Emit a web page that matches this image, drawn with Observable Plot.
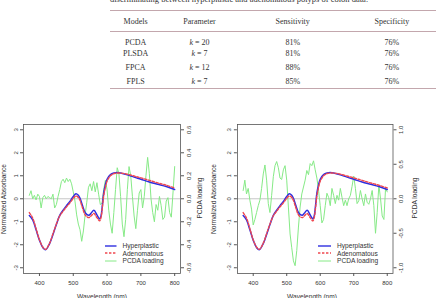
<!DOCTYPE html>
<html>
<head>
<meta charset="utf-8">
<script src="https://cdn.jsdelivr.net/npm/d3@7"></script>
<script src="https://cdn.jsdelivr.net/npm/@observablehq/plot@0.6"></script>
<style>
  html, body { margin: 0; padding: 0; background: #fff; }
  #page { position: relative; width: 436px; height: 298px; overflow: hidden; background: #fff; }
  .abs { position: absolute; }
  #caption { left: 110px; top: -6px; font: 8.5px/10px "Liberation Serif", "DejaVu Serif", serif; color: #333; white-space: nowrap; }
  #tbl { position: absolute; left: 110px; top: 10px; border-collapse: collapse; font: 8px "Liberation Serif", "DejaVu Serif", serif; color: #333; }
  #tbl th, #tbl td { padding: 0; text-align: center; font-weight: normal; }
  #tbl thead tr { height: 21px; border-top: 1px solid #c3a7ad; border-bottom: 1px solid #c3a7ad; }
  #tbl tbody tr { height: 14px; }
  #tbl tbody tr:first-child { height: 15px; vertical-align: bottom; }
  #tbl tbody tr:last-child { border-bottom: 1px solid #c3a7ad; }
  .ttl { font: 6.6px "Liberation Sans", Arial, sans-serif; color: #333; white-space: nowrap; }
  .rot { transform: translate(-50%, -50%) rotate(-90deg); }
  .ctr { transform: translate(-50%, -50%); }
  .leg { font: 6.6px "Liberation Sans", Arial, sans-serif; color: #333; }
  .leg div { height: 7.8px; line-height: 7.8px; display: flex; align-items: center; white-space: nowrap; }
  .leg svg { margin-right: 6px; }
</style>
</head>
<body>
<div id="page">
  <div id="caption" class="abs">discriminating between hyperplastic and adenomatous polyps of colon data.</div>
  <table id="tbl"></table>
  <div id="left" class="abs" style="left:0;top:110px"></div>
  <div id="right" class="abs" style="left:208px;top:110px"></div>
</div>
<script>
// ---- Table of model results ----
const models = ["PCDA", "PLSDA", "FPCA", "FPLS"];
const paramK = [20, 7, 12, 7];
const sensitivity = ["81%", "81%", "88%", "85%"];
const specificity = ["76%", "76%", "76%", "76%"];
const tableHeader = ["Models", "Parameter", "Sensitivity", "Specificity"];
const columnWidths = [52, 78, 112, 90];

// ---- Mean spectra (normalized absorbance) ----
const meanWavelength = [370,380,390,400,410,418,430,440,450,460,470,480,490,500,508,515,520,527,536,546,553,561,570,578,582,586,590,595,600,610,620,630,640,660,680,700,725,750,775,800];
const hyperplastic = [-0.73,-0.92,-1.35,-1.80,-2.12,-2.22,-1.95,-1.55,-1.12,-0.72,-0.50,-0.30,-0.12,0.10,0.22,0.15,0.02,-0.28,-0.62,-0.72,-0.62,-0.50,-0.70,-0.88,-0.75,-0.30,0.25,0.60,0.85,1.05,1.12,1.14,1.12,1.04,0.94,0.85,0.73,0.63,0.53,0.40];
const adenomatous = [-0.60,-0.84,-1.30,-1.78,-2.10,-2.20,-1.93,-1.52,-1.10,-0.74,-0.54,-0.35,-0.18,0.02,0.12,0.06,-0.07,-0.38,-0.72,-0.82,-0.74,-0.64,-0.82,-0.96,-0.82,-0.40,0.12,0.50,0.76,1.00,1.09,1.12,1.12,1.07,0.99,0.91,0.80,0.69,0.59,0.47];

// ---- PCDA loadings ----
const loadingWavelength = [370,375,380,385,390,395,400,405,410,415,420,425,430,435,440,445,450,455,460,465,470,475,480,485,490,495,500,505,510,515,520,525,530,535,540,545,550,555,560,565,570,575,580,585,590,595,600,605,610,615,620,625,630,635,640,645,650,655,660,665,670,675,680,685,690,695,700,705,710,715,720,725,730,735,740,745,750,755,760,765,770,775,780,785,790,795,800];
const loadingLeft = [0.03,0.07,0.0,0.03,-0.01,0.04,0.02,-0.08,0.01,0.03,0.0,0.02,0.01,0.0,0.04,-0.08,-0.05,0.02,0.08,0.15,0.17,0.14,0.18,0.15,0.17,0.13,0.06,-0.02,-0.14,-0.22,-0.27,-0.37,-0.28,-0.14,-0.03,0.10,0.13,0.07,0.15,0.06,0.14,0.04,-0.05,-0.04,0.08,0.16,0.08,-0.10,-0.22,-0.30,-0.12,0.08,0.27,0.22,0.02,-0.22,-0.33,-0.18,0.08,0.28,0.20,0.02,-0.15,-0.26,-0.10,0.05,0.08,-0.08,0.02,0.20,0.36,0.22,0.0,-0.12,-0.20,-0.05,-0.10,0.02,-0.06,-0.18,-0.16,-0.02,0.01,-0.12,-0.16,0.05,0.28];
const loadingRight = [0.12,0.27,0.07,0.15,-0.02,-0.15,-0.38,-0.30,-0.20,-0.10,-0.02,0.15,0.36,0.49,0.27,-0.07,-0.20,0.05,0.32,0.48,0.54,0.45,0.30,0.28,0.42,0.48,0.27,-0.12,-0.51,-0.71,-0.90,-0.97,-0.75,-0.41,-0.12,0.07,0.17,0.27,0.41,0.35,0.51,0.48,0.55,0.42,0.30,0.12,-0.10,-0.35,-0.30,-0.10,0.08,0.02,-0.10,0.15,0.05,-0.07,0.05,-0.02,0.15,0.02,-0.10,-0.02,-0.10,0.00,0.05,0.18,0.33,0.15,-0.07,-0.03,0.12,0.00,-0.10,0.07,-0.05,-0.08,0.00,0.12,-0.10,-0.50,-0.20,0.20,0.00,-0.25,-0.30,0.15,0.10];

// ---- Axis ticks ----
const xTicks = [400, 500, 600, 700, 800];
const absTicks = [-3, -2, -1, 0, 1, 2, 3];
const loadTicksLeft = [-0.6, -0.4, -0.2, 0, 0.2, 0.4, 0.6];
const loadTicksRight = [-1, -0.5, 0, 0.5, 1];

// Legend entries
const legendLabels = ["Hyperplastic", "Adenomatous", "PCDA loading"];
const colors = { hyper: "#2f2fe0", adeno: "#f0474f", load: "#86ea86" };

// Build the table
const tbl = d3.select("#tbl");
tbl.append("colgroup").selectAll("col").data(columnWidths).join("col").style("width", d => d + "px");
tbl.append("thead").append("tr").selectAll("th").data(tableHeader).join("th").text(d => d);
const tbody = tbl.append("tbody");
models.forEach((m, i) => {
  const tr = tbody.append("tr");
  tr.append("td").text(m);
  const p = tr.append("td");
  p.append("i").text("k");
  p.append("span").text(" = " + paramK[i]);
  tr.append("td").text(sensitivity[i]);
  tr.append("td").text(specificity[i]);
});

const meanRows = meanWavelength.map((w, i) => ({w, hyper: hyperplastic[i], adeno: adenomatous[i]}));

function spectrumPlot({loading, factor, loadTicks, width, marginLeft, marginRight}) {
  const loadRows = loadingWavelength.map((w, i) => ({w, v: loading[i]}));
  return Plot.plot({
    width, height: 188,
    marginTop: 14, marginBottom: 25, marginLeft, marginRight,
    style: {fontFamily: "'Liberation Sans', Arial, sans-serif", fontSize: "6px", color: "#333", background: "transparent", overflow: "visible"},
    x: {domain: [352.8, 817.2]},
    y: {domain: [-3.25, 3.23]},
    marks: [
      Plot.ruleY([0], {stroke: "#b8b8b8", strokeWidth: 0.8}),
      // loading drawn on the secondary (right) axis, scaled onto the absorbance axis
      Plot.line(loadRows, {x: "w", y: d => d.v * factor, stroke: colors.load, strokeWidth: 1}),
      Plot.line(meanRows, {x: "w", y: "hyper", stroke: colors.hyper, strokeWidth: 1.5, curve: "catmull-rom"}),
      Plot.line(meanRows, {x: "w", y: "adeno", stroke: colors.adeno, strokeWidth: 1.4, strokeDasharray: "2.4,1.6", curve: "catmull-rom"}),
      Plot.frame({stroke: "#555", strokeWidth: 0.8}),
      Plot.axisX({ticks: xTicks, tickSize: 3, tickPadding: 4, tickFormat: d => String(d), label: null, stroke: "#555"}),
      Plot.axisY({ticks: absTicks, tickSize: 3, tickPadding: 3, tickRotate: -90, tickFormat: d => String(d), label: null, stroke: "#555"}),
      Plot.axisY({anchor: "right", ticks: loadTicks.map(t => t * factor), tickSize: 3, tickPadding: 3, tickRotate: -90, lineAnchor: "top",
        tickFormat: d => (d / factor).toFixed(1), label: null, stroke: "#555"})
    ]
  });
}

document.getElementById("left").append(spectrumPlot({loading: loadingLeft, factor: 5, loadTicks: loadTicksLeft, width: 208, marginLeft: 23, marginRight: 28}));
document.getElementById("right").append(spectrumPlot({loading: loadingRight, factor: 3, loadTicks: loadTicksRight, width: 228, marginLeft: 28.9, marginRight: 43.5}));

// Axis titles
const page = d3.select("#page");
function title(text, x, y, rotated) {
  page.append("div").attr("class", "abs ttl " + (rotated ? "rot" : "ctr")).style("left", x + "px").style("top", y + "px").text(text);
}
title("Normalized Absorbance", 3, 199, true);
title("PCDA loading", 198.5, 198, true);
title("Wavelength (nm)", 102, 295.5, false);
title("Normalized Absorbance", 213.3, 199, true);
title("PCDA loading", 414, 198, true);
title("Wavelength (nm)", 312, 295.5, false);

// Legends
function legend(x, y, lineWidth) {
  const box = page.append("div").attr("class", "abs leg").style("left", x + "px").style("top", y + "px");
  const styles = [
    {stroke: colors.hyper, dash: null},
    {stroke: colors.adeno, dash: "2.4,1.6"},
    {stroke: colors.load, dash: null}
  ];
  legendLabels.forEach((label, i) => {
    const row = box.append("div");
    const svg = row.append("svg").attr("width", lineWidth).attr("height", 4);
    svg.append("line").attr("x1", 0).attr("x2", lineWidth).attr("y1", 2).attr("y2", 2)
      .attr("stroke", styles[i].stroke).attr("stroke-width", i === 2 ? 1 : 1.4).attr("stroke-dasharray", styles[i].dash);
    row.append("span").text(label);
  });
}
legend(105, 241.8, 11.5);
legend(318, 241.8, 13);
</script>
</body>
</html>
